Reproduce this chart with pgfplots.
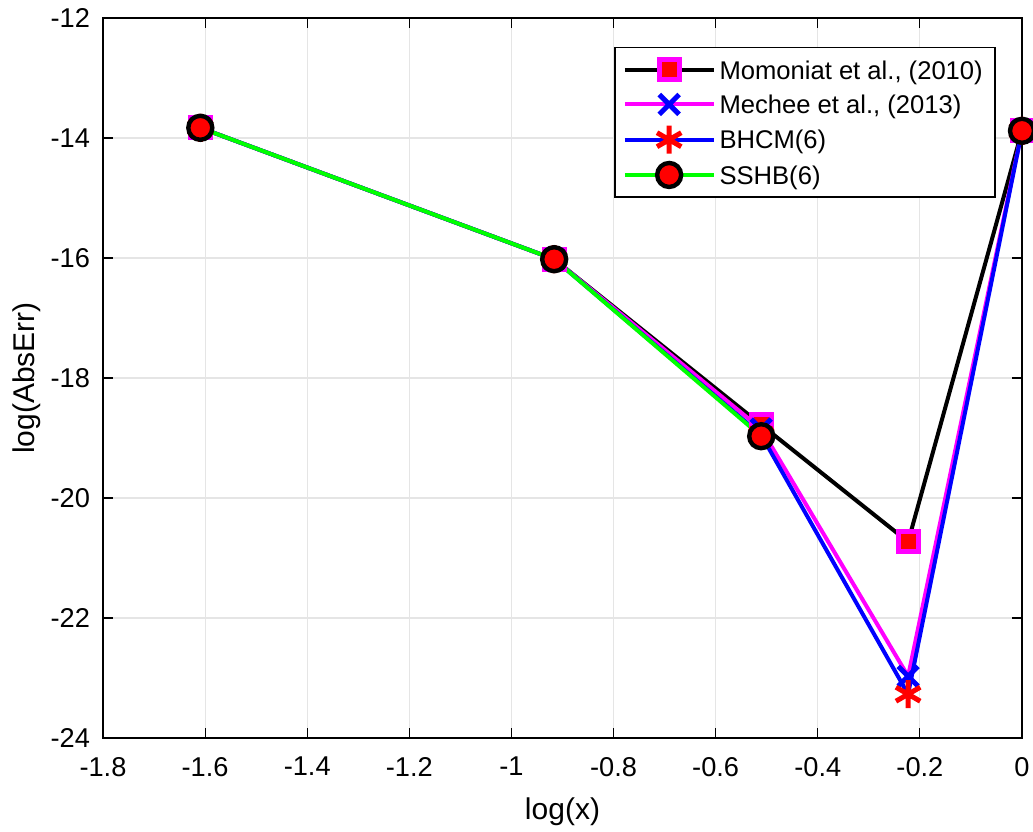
\documentclass[border=0pt]{standalone}
\usepackage{fontspec}
\setmainfont{Liberation Sans}
\usepackage{pgfplots}
\pgfplotsset{compat=1.18}
\definecolor{mag}{rgb}{1,0,1}
\definecolor{grn}{rgb}{0,1,0}
\begin{document}
\begin{tikzpicture}
\begin{axis}[
  at={(0,0)}, anchor=south west,
  scale only axis, width=459.5pt, height=360pt,
  xmin=-1.8, xmax=0, ymin=-24, ymax=-12,
  xtick={-1.8,-1.6,...,0}, ytick={-24,-22,...,-12},
  xticklabels={-1.8,-1.6,-1.4,-1.2,-1,-0.8,-0.6,-0.4,-0.2,0},
  yticklabels={-24,-22,-20,-18,-16,-14,-12},
  /pgf/number format/assume math mode=true,
  tick align=inside, major tick length=5pt,
  tick style={black, line width=0.6pt},
  grid=major, grid style={gray!20, line width=0.6pt},
  axis line style={black, line width=0.8pt},
  ticklabel style={font=\fontsize{13.6}{15}\selectfont},
  yticklabel style={xshift=-3pt},
  xticklabel style={yshift=-6pt},
  xlabel={log(x)}, ylabel={log(AbsErr)},
  label style={font=\fontsize{15}{17}\selectfont},
  xlabel style={yshift=-4pt},
  ylabel style={yshift=-2pt},
  unbounded coords=jump,
  legend style={at={(0.556,0.960)}, anchor=north west, draw=black, line width=0.8pt,
    font=\fontsize{12.8}{15}\selectfont, row sep=4pt, inner xsep=4pt, inner ysep=4.5pt,
    cells={anchor=west}, nodes={inner sep=2pt, text depth=0pt}},
  legend cell align=left,
  legend image code/.code={
    \draw[mark repeat=2,mark phase=2] plot coordinates {(0cm,0cm) (0.78cm,0cm) (1.56cm,0cm)};},
]
\addplot[black, line width=2pt, mark=square*, mark size=5pt,
  mark options={draw=mag, fill=red, line width=2.5pt, solid}]
  coordinates {(-1.6094,-13.83) (-0.9163,-16.02) (-0.5108,-18.78) (-0.2231,-20.73) (0,-13.88)};
\addlegendentry{Momoniat et al., (2010)}
\addplot[mag, line width=2pt, mark=x, mark size=7pt,
  mark options={draw=blue, line width=2.5pt, solid}]
  coordinates {(-1.6094,-13.83) (-0.9163,-16.02) (-0.5108,-18.85) (-0.2231,-22.97) (0,-13.88)};
\addlegendentry{Mechee et al., (2013)}
\addplot[blue, line width=2pt, mark=asterisk, mark size=7pt,
  mark options={draw=red, line width=2.5pt, solid}]
  coordinates {(-1.6094,-13.83) (-0.9163,-16.02) (-0.5108,-18.95) (-0.2231,-23.27) (0,-13.88)};
\addlegendentry{BHCM(6)}
\addplot[grn, line width=2pt, mark=*, mark size=6pt,
  mark options={draw=black, fill=red, line width=2.2pt, solid}]
  coordinates {(-1.6094,-13.83) (-0.9163,-16.02) (-0.5108,-18.97) (-0.2231,nan) (0,-13.88)};
\addlegendentry{SSHB(6)}
\end{axis}
\pgfresetboundingbox
\path (-51.5pt,-46.5pt) rectangle (465pt,369pt);
\end{tikzpicture}
\end{document}
